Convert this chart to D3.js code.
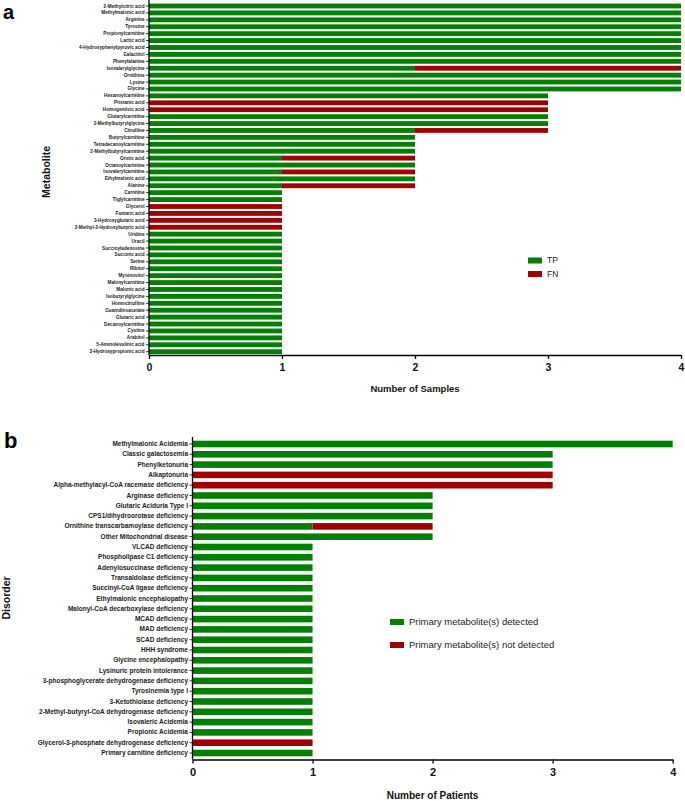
<!DOCTYPE html>
<html><head><meta charset="utf-8">
<script src="https://cdn.jsdelivr.net/npm/d3@7"></script>
<style>body{margin:0;background:#fff}svg{display:block;font-family:"Liberation Sans",Arial,sans-serif}</style>
</head><body><svg id="c" width="685" height="801"></svg>
<script>
const metabolites = ["2-Methylcitric acid","Methylmalonic acid","Arginine","Tyrosine","Propionylcarnitine","Lactic acid","4-Hydroxyphenylpyruvic acid","Galactitol","Phenylalanine","Isovalerylglycine","Ornithine","Lysine","Glycine","Hexanoylcarnitine","Pristanic acid","Homogentisic acid","Glutarylcarnitine","2-Methylbutyrylglycine","Citrulline","Butyrylcarnitine","Tetradecanoylcarnitine","2-Methylbutyrylcarnitine","Orotic acid","Octanoylcartinine","Isovalerylcarnitine","Ethylmalonic acid","Alanine","Carnitine","Tiglylcarnitine","Glycerol","Fumaric acid","3-Hydroxyglutaric acid","2-Methyl-3-Hydroxybutyric acid","Uridine","Uracil","Succinyladenosine","Succinic acid","Serine","Ribitol","Myoinositol","Malonylcarnitine","Malonic acid","Isobutyrylglycine","Homocitrulline","Guanidinoacetate","Glutaric acid","Decanoylcarnitine","Cystine","Arabitol","5-Aminolevulinic acid","3-Hydroxypropionic acid"];
const tpA = [4,4,4,4,4,4,4,4,4,2,4,4,4,3,0,0,3,3,2,2,2,2,1,2,1,2,1,1,1,0,0,0,0,1,1,1,1,1,1,1,1,1,1,1,1,1,1,1,1,1,1];
const fnA = [0,0,0,0,0,0,0,0,0,2,0,0,0,0,3,3,0,0,1,0,0,0,1,0,1,0,1,0,0,1,1,1,1,0,0,0,0,0,0,0,0,0,0,0,0,0,0,0,0,0,0];
const seriesA = ["TP","FN"];

const disorders = ["Methylmalonic Acidemia","Classic galactosemia","Phenylketonuria","Alkaptonuria","Alpha-methylacyl-CoA racemase deficiency","Arginase deficiency","Glutaric Aciduria Type I","CPS1/dihydroorotase deficiency","Ornithine transcarbamoylase deficiency","Other Mitochondrial disease","VLCAD deficiency","Phospholipase C1 deficiency","Adenylosuccinase deficiency","Transaldolase deficiency","Succinyl-CoA ligase deficiency","Ethylmalonic encephalopathy","Malonyl-CoA decarboxylase deficiency","MCAD deficiency","MAD deficiency","SCAD deficiency","HHH syndrome","Glycine encephalopathy","Lysinuric protein intolerance","3-phosphoglycerate dehydrogenase deficiency","Tyrosinemia type I","3-Ketothiolase deficiency","2-Methyl-butyryl-CoA dehydrogenase deficiency","Isovaleric Acidemia","Propionic Acidemia","Glycerol-3-phosphate dehydrogenase deficiency","Primary carnitine deficiency"];
const detectedB = [4,3,3,0,0,2,2,2,1,2,1,1,1,1,1,1,1,1,1,1,1,1,1,1,1,1,1,1,1,0,1];
const notDetectedB = [0,0,0,3,3,0,0,0,1,0,0,0,0,0,0,0,0,0,0,0,0,0,0,0,0,0,0,0,0,1,0];
const seriesB = ["Primary metabolite(s) detected","Primary metabolite(s) not detected"];
const xTicks = [0,1,2,3,4];

const GREEN = "#037f03", RED = "#a00000";
const svg = d3.select("#c");

function panel(cfg){
  const g = svg.append("g");
  const x = d3.scaleLinear().domain([0,4]).range([cfg.x0, cfg.x1]);
  const y = d3.scaleBand().domain(cfg.cats).range([cfg.y0, cfg.y1]).paddingInner(cfg.pad).paddingOuter(cfg.pad/2);
  const rows = cfg.cats.map((c,i)=>({c, a:cfg.s1[i], b:cfg.s2[i]}));
  const stack = d3.stack().keys(["a","b"])(rows);
  const colors = [GREEN, RED];
  stack.forEach((layer,k)=>{
    g.append("g").selectAll("rect").data(layer).join("rect")
      .attr("x", d=>x(d[0])).attr("width", d=>x(d[1])-x(d[0]))
      .attr("y", d=>y(d.data.c)).attr("height", y.bandwidth())
      .attr("fill", colors[k]);
  });
  const ax = g.append("g").attr("transform",`translate(0,${cfg.axisY})`)
    .call(d3.axisBottom(x).tickValues(xTicks).tickFormat(d3.format("d")).tickSize(4).tickSizeOuter(0));
  ax.select(".domain").attr("stroke","#000").attr("stroke-width",1.3);
  ax.selectAll(".tick line").attr("stroke","#000").attr("stroke-width",1.3);
  ax.selectAll("text").attr("font-size",cfg.tickFs).attr("font-weight","bold").attr("fill","#111").attr("dy","0.9em");
  const ay = g.append("g").attr("transform",`translate(${cfg.x0},0)`)
    .call(d3.axisLeft(y).tickSize(cfg.ytick).tickSizeOuter(0).tickPadding(1.5));
  ay.select(".domain").attr("d",`M0,${cfg.yTop}V${cfg.axisY}`).attr("stroke","#000").attr("stroke-width",1.3);
  ay.selectAll(".tick line").attr("stroke","#000").attr("stroke-width",0.8);
  ay.selectAll("text").attr("font-size",cfg.catFs).attr("font-weight","bold").attr("fill","#222");
  g.append("text").attr("x",(cfg.x0+cfg.x1)/2).attr("y",cfg.titleY).attr("text-anchor","middle")
    .attr("font-size",cfg.titleFs).attr("font-weight","bold").attr("fill","#111").text(cfg.xTitle);
  g.append("text").attr("transform",`translate(${cfg.yTitleX},${cfg.yTitleY}) rotate(-90)`).attr("text-anchor","middle")
    .attr("font-size",cfg.yTitleFs).attr("font-weight","bold").attr("fill","#111").text(cfg.yTitle);
  g.append("text").attr("x",cfg.letterX).attr("y",cfg.letterY).attr("font-size",cfg.letterFs).attr("font-weight","bold").attr("fill","#000").text(cfg.letter);
  cfg.legend.forEach((t,i)=>{
    const ly = cfg.legY + i*cfg.legDy;
    g.append("rect").attr("x",cfg.legX).attr("y",ly-cfg.legH/2).attr("width",cfg.legW).attr("height",cfg.legH).attr("fill",colors[i]);
    g.append("text").attr("x",cfg.legX+cfg.legW+5).attr("y",ly).attr("dy","0.35em").attr("font-size",cfg.legFs).attr("fill","#222").text(t);
  });
}

panel({cats:metabolites, s1:tpA, s2:fnA, x0:149, x1:681, y0:2.55, y1:355.15, pad:0.3, axisY:355, yTop:0,
  tickFs:10.5, catFs:4.7, ytick:3, titleY:392, titleFs:9.5, xTitle:"Number of Samples",
  yTitle:"Metabolite", yTitleX:50, yTitleY:172, yTitleFs:10.5, letter:"a", letterX:3, letterY:19, letterFs:20,
  legend:seriesA, legX:528, legY:260.5, legDy:13.5, legW:14, legH:6, legFs:8.5});

panel({cats:disorders, s1:detectedB, s2:notDetectedB, x0:192.5, x1:672.7, y0:438.85, y1:758.15, pad:0.36, axisY:759.5, yTop:437,
  tickFs:11, catFs:6.5, ytick:3, titleY:799, titleFs:10, xTitle:"Number of Patients",
  yTitle:"Disorder", yTitleX:10, yTitleY:598, yTitleFs:10.5, letter:"b", letterX:4, letterY:448, letterFs:22,
  legend:seriesB, legX:390, legY:622, legDy:23, legW:14, legH:6, legFs:9.5});
</script></body></html>
